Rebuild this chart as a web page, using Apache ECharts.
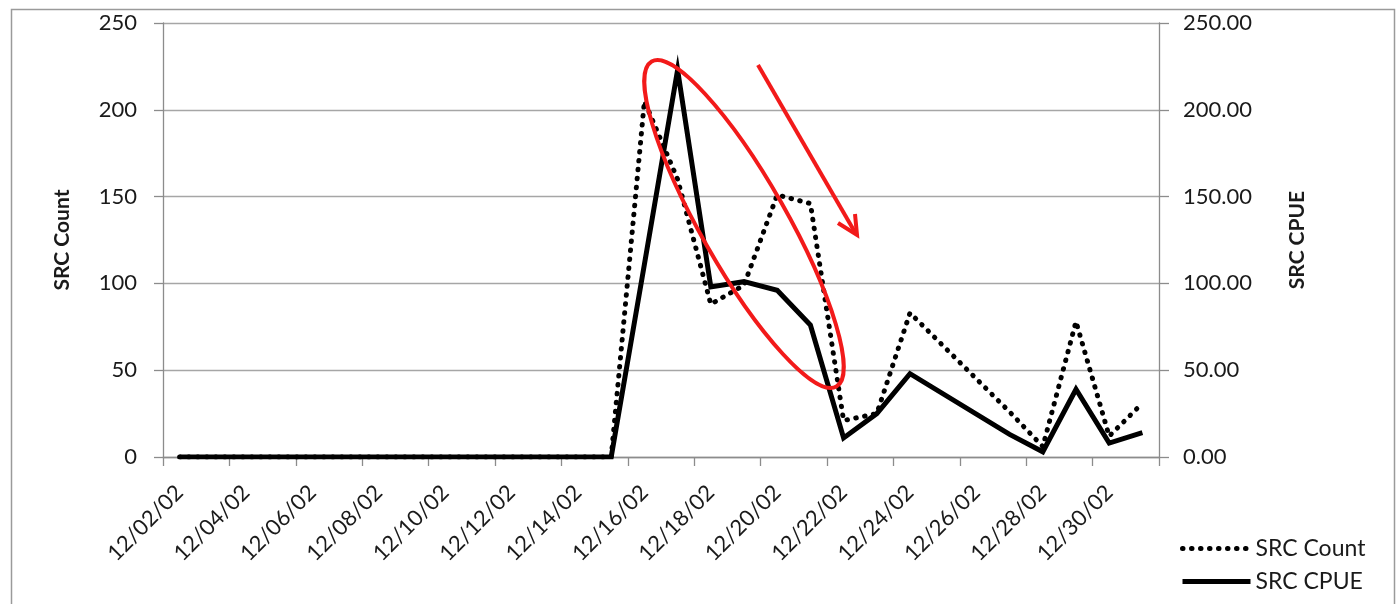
<!DOCTYPE html>
<html>
<head>
<meta charset="utf-8">
<script src="https://cdn.jsdelivr.net/npm/echarts@6/dist/echarts.min.js"></script>
<style>
  html, body { margin: 0; padding: 0; background: #fff; }
  #chart { width: 1397px; height: 604px; }
</style>
</head>
<body>
<div id="chart"></div>
<script>
// Categories: one per day, Dec 2 .. Dec 31, 2002
const dates = ['12/02/02','12/03/02','12/04/02','12/05/02','12/06/02','12/07/02','12/08/02','12/09/02',
  '12/10/02','12/11/02','12/12/02','12/13/02','12/14/02','12/15/02','12/16/02','12/17/02','12/18/02',
  '12/19/02','12/20/02','12/21/02','12/22/02','12/23/02','12/24/02','12/25/02','12/26/02','12/27/02',
  '12/28/02','12/29/02','12/30/02','12/31/02'];

// SRC Count (left axis)
const srcCount = [0,0,0,0,0,0,0,0,0,0,0,0,0,0, 205,160,88,99,151,146,21,25,83,null,null,26,6,78,12,31];
// SRC CPUE (right axis)
const srcCPUE  = [0,0,0,0,0,0,0,0,0,0,0,0,0,0, 111,223,98,101,96,76,11,25,48,null,null,13,3,39,8,14];

const leftTicks = [0, 50, 100, 150, 200, 250];
const rightTicks = [0, 50, 100, 150, 200, 250];

const FONT = 'Lato';
const chart = echarts.init(document.getElementById('chart'), null, { renderer: 'canvas' });

const option = {
  backgroundColor: '#ffffff',
  animation: false,
  textStyle: { fontFamily: FONT },
  grid: { left: 163, right: 238, top: 23, bottom: 147, containLabel: false },
  legend: {
    orient: 'vertical',
    left: 1175,
    top: 532,
    itemWidth: 68,
    itemHeight: 14,
    itemGap: 10,
    itemStyle: { opacity: 0 },
    lineStyle: { width: 5 },
    textStyle: { fontFamily: FONT, fontSize: 23, color: '#1a1a1a' },
    data: ['SRC Count', 'SRC CPUE']
  },
  xAxis: {
    type: 'category',
    data: dates,
    boundaryGap: true,
    axisLine: { lineStyle: { color: '#8c8c8c', width: 1.3 } },
    axisTick: { show: true, interval: 1, length: 9, alignWithLabel: false, lineStyle: { color: '#8c8c8c', width: 1.3 } },
    axisLabel: { interval: 1, rotate: 45, margin: 32, fontFamily: FONT, fontSize: 22, color: '#1a1a1a' },
    splitLine: { show: false }
  },
  yAxis: [
    {
      type: 'value', min: leftTicks[0], max: leftTicks[leftTicks.length - 1], interval: 50,
      name: 'SRC Count', nameLocation: 'middle', nameRotate: 90, nameGap: 90,
      nameTextStyle: { fontFamily: FONT, fontSize: 21, fontWeight: 'bold', color: '#1a1a1a' },
      axisLine: { show: true, lineStyle: { color: '#8c8c8c', width: 1.3 } },
      axisTick: { show: true, length: 9, lineStyle: { color: '#8c8c8c', width: 1.3 } },
      axisLabel: { margin: 26, fontFamily: FONT, fontSize: 22, color: '#1a1a1a' },
      splitLine: { show: true, lineStyle: { color: '#a6a6a6', width: 1.3 } }
    },
    {
      type: 'value', min: rightTicks[0], max: rightTicks[rightTicks.length - 1], interval: 50,
      position: 'right',
      name: 'SRC CPUE', nameLocation: 'middle', nameRotate: 90, nameGap: 128,
      nameTextStyle: { fontFamily: FONT, fontSize: 21, fontWeight: 'bold', color: '#1a1a1a' },
      axisLine: { show: true, lineStyle: { color: '#8c8c8c', width: 1.3 } },
      axisTick: { show: true, length: 10, lineStyle: { color: '#8c8c8c', width: 1.3 } },
      axisLabel: { margin: 24, fontFamily: FONT, fontSize: 22, color: '#1a1a1a', formatter: v => v.toFixed(2) },
      splitLine: { show: false }
    }
  ],
  series: [
    {
      name: 'SRC Count', type: 'line', yAxisIndex: 0, data: srcCount,
      connectNulls: true, showSymbol: false, symbol: 'none',
      itemStyle: { color: '#000' },
      lineStyle: { color: '#000', width: 5, type: [0.5, 8.5], cap: 'round' },
      z: 3
    },
    {
      name: 'SRC CPUE', type: 'line', yAxisIndex: 1, data: srcCPUE,
      connectNulls: true, showSymbol: false, symbol: 'none',
      itemStyle: { color: '#000' },
      lineStyle: { color: '#000', width: 5, type: 'solid', join: 'miter' },
      z: 4
    }
  ],
  graphic: [
    { type: 'rect', left: 9, top: 7, silent: true, z: -10,
      shape: { width: 1383, height: 620 },
      style: { fill: null, stroke: '#9a9a9a', lineWidth: 1.5 } },
    { type: 'ellipse', x: 744, y: 224, rotation: -60.4 * Math.PI / 180, silent: true, z: 100,
      shape: { cx: 0, cy: 0, rx: 187, ry: 43 },
      style: { fill: null, stroke: '#f21a1a', lineWidth: 4 } },
    { type: 'line', silent: true, z: 100,
      shape: { x1: 758, y1: 65, x2: 856, y2: 234 },
      style: { stroke: '#f21a1a', lineWidth: 4 } },
    { type: 'polyline', silent: true, z: 100,
      shape: { points: [[838, 223], [857, 235], [855, 214]] },
      style: { fill: null, stroke: '#f21a1a', lineWidth: 4, lineJoin: 'miter' } }
  ]
};
chart.setOption(option);
</script>
</body>
</html>
